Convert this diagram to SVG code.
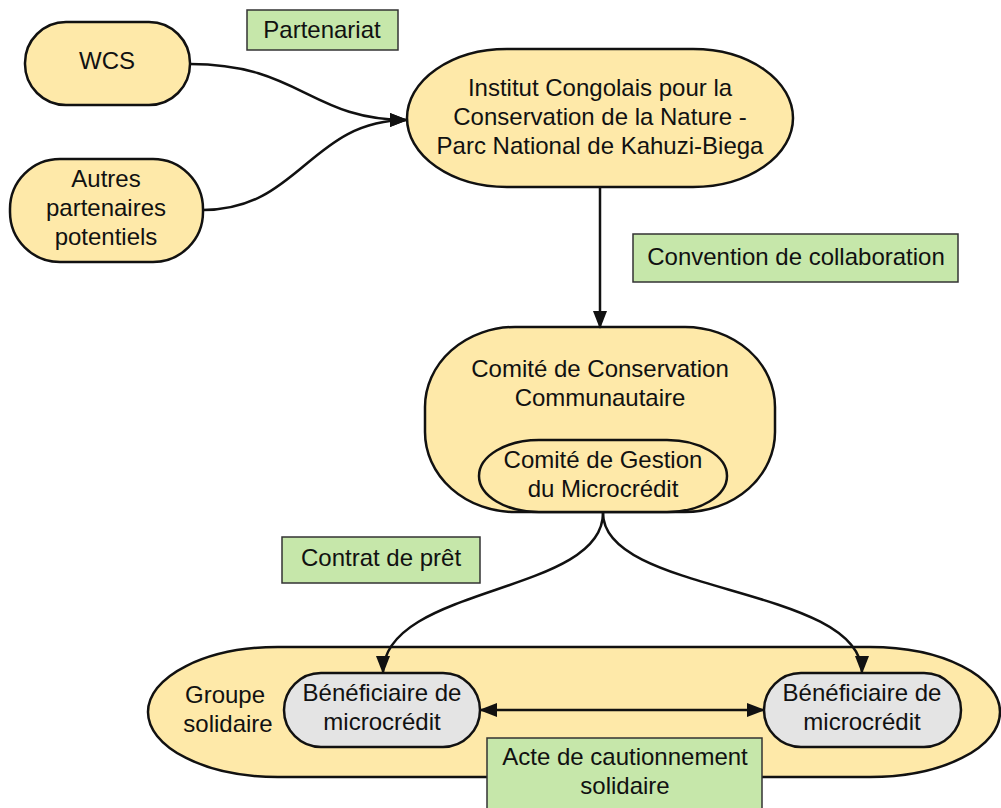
<svg xmlns="http://www.w3.org/2000/svg" width="1001" height="808" viewBox="0 0 1001 808">
<style>
.node{fill:#fee9a9;stroke:#111;stroke-width:2.5}
.grey{fill:#e4e4e4;stroke:#111;stroke-width:2.5}
.lbl{fill:#c6e7aa;stroke:#333;stroke-width:1.5}
.t{font-family:"Liberation Sans",Arial,sans-serif;font-size:24px;fill:#111;text-anchor:middle}
.edge{fill:none;stroke:#111;stroke-width:2.5}
</style>
<defs>
<marker id="ah" viewBox="0 0 18 14" refX="17" refY="7" markerWidth="18" markerHeight="14" markerUnits="userSpaceOnUse" orient="auto-start-reverse">
<path d="M0,0 L18,7 L0,14 z" fill="#111"/>
</marker>
</defs>
<rect width="1001" height="808" fill="#fff"/>
<g id="groupe">
<rect class="node" x="148" y="647" width="852" height="130" rx="130" ry="65"/>
<text class="t" x="225" y="703">Groupe</text>
<text class="t" x="228" y="732">solidaire</text>
</g>
<g id="wcs">
<rect class="node" x="25" y="22" width="165" height="83" rx="41" ry="41"/>
<text class="t" x="107" y="69">WCS</text>
</g>
<g id="autres">
<rect class="node" x="10" y="159" width="193" height="103" rx="50" ry="50"/>
<text class="t" x="106" y="187">Autres</text>
<text class="t" x="106" y="216">partenaires</text>
<text class="t" x="106" y="245">potentiels</text>
</g>
<g id="iccn">
<rect class="node" x="407" y="49" width="386" height="138" rx="100" ry="69"/>
<text class="t" x="600" y="96">Institut Congolais pour la</text>
<text class="t" x="600" y="125">Conservation de la Nature -</text>
<text class="t" x="600" y="154">Parc National de Kahuzi-Biega</text>
</g>
<g id="ccc">
<rect class="node" x="425" y="327" width="350" height="185" rx="90" ry="80"/>
<text class="t" x="600" y="377">Comité de Conservation</text>
<text class="t" x="600" y="406">Communautaire</text>
</g>
<g id="cgm">
<rect class="node" x="479" y="440" width="248" height="72" rx="60" ry="36"/>
<text class="t" x="603" y="468">Comité de Gestion</text>
<text class="t" x="603" y="497">du Microcrédit</text>
</g>
<g id="benef1">
<rect class="grey" x="284" y="673" width="196" height="74" rx="37" ry="37"/>
<text class="t" x="382" y="701">Bénéficiaire de</text>
<text class="t" x="382" y="730">microcrédit</text>
</g>
<g id="benef2">
<rect class="grey" x="764" y="673" width="197" height="74" rx="37" ry="37"/>
<text class="t" x="862" y="701">Bénéficiaire de</text>
<text class="t" x="862" y="730">microcrédit</text>
</g>
<g id="connectors">
<path class="edge" d="M190,64 C300,64 310,120 407,120" marker-end="url(#ah)"/>
<path class="edge" d="M203,210 C300,210 310,120 407,120" marker-end="url(#ah)"/>
<path class="edge" d="M600,187 L600,328" marker-end="url(#ah)"/>
<path class="edge" d="M603,513 C603,595 383,585 383,673" marker-end="url(#ah)"/>
<path class="edge" d="M603,513 C603,595 862,585 862,673" marker-end="url(#ah)"/>
<path class="edge" d="M480,710 L764,710" marker-start="url(#ah)" marker-end="url(#ah)"/>
</g>
<g id="labels">
<g id="lbl-partenariat">
<rect class="lbl" x="247" y="10" width="151" height="40"/>
<text class="t" x="322" y="38">Partenariat</text>
</g>
<g id="lbl-convention">
<rect class="lbl" x="633" y="234" width="325" height="48"/>
<text class="t" x="796" y="265">Convention de collaboration</text>
</g>
<g id="lbl-contrat">
<rect class="lbl" x="282" y="537" width="198" height="46"/>
<text class="t" x="381" y="566">Contrat de prêt</text>
</g>
<g id="lbl-acte">
<rect class="lbl" x="487" y="738" width="275" height="80"/>
<text class="t" x="625" y="765">Acte de cautionnement</text>
<text class="t" x="625" y="794">solidaire</text>
</g>
</g>
</svg>
